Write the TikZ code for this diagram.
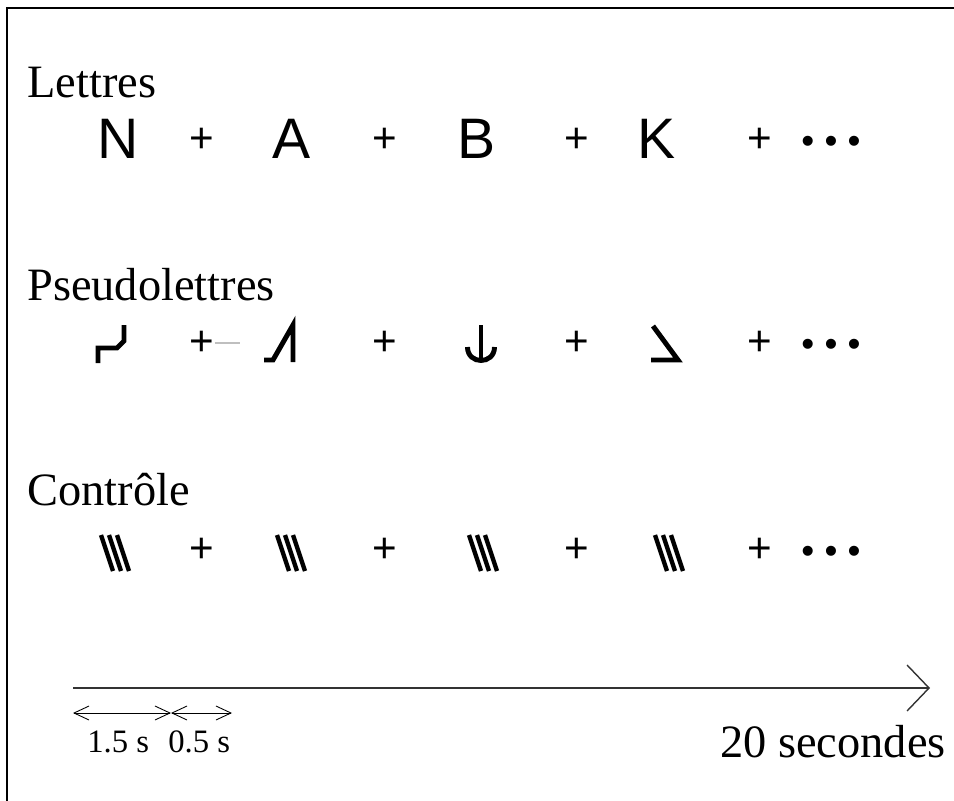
\documentclass[tikz,border=0pt]{standalone}
\usepackage{fontspec}
\setmainfont{Liberation Serif}
\newfontfamily\sansglyph{Liberation Sans}
\usetikzlibrary{positioning, arrows.meta}

\begin{document}
\begin{tikzpicture}[
    x=0.02cm, y=-0.02cm,
    lab_txt/.style={anchor=base west, inner sep=0pt, font=\fontsize{26.4}{30}\selectfont},
    dur_txt/.style={anchor=base west, inner sep=0pt, font=\fontsize{18.6}{22}\selectfont},
    letter_txt/.style={anchor=base, inner sep=0pt, font=\sansglyph\fontsize{32.5}{36}\selectfont},
    plus_txt/.style={inner sep=0pt, font=\sansglyph\fontsize{24}{28}\selectfont},
    dots_txt/.style={inner sep=0pt, font=\sansglyph\fontsize{21}{26}\selectfont},
    glyph_line/.style={line width=2.8pt, line join=miter},
    slash_line/.style={line width=2.5pt},
    time_axis/.style={-{Straight Barb[length=4.4mm, width=9.2mm, line width=0.8pt]}, line width=1.1pt, black!80},
    dur_arrow/.style={{Straight Barb[length=3mm, width=2.8mm]}-{Straight Barb[length=3mm, width=2.8mm]}, line width=0.5pt}
  ]
  \useasboundingbox (0,0) rectangle (954,801);
  \draw[line width=1.1pt] (954,8) -- (7,8) -- (7,801);

  % row labels
  \node[lab_txt] (lettres) at (27,97) {Lettres};
  \node[lab_txt] (pseudo) at (27,300) {Pseudolettres};
  \node[lab_txt] (controle) at (27,505) {Contrôle};

  % letters
  \node[letter_txt] (let_n) at (118,158) {N};
  \node[letter_txt] (let_a) at (292,158) {A};
  \node[letter_txt] (let_b) at (477,158) {B};
  \node[letter_txt] (let_k) at (657,158) {K};

  % fixation crosses
  \foreach \px [count=\i] in {202,385,577,760} {
    \node[plus_txt] (plA-\i) at (\px,140) {+};
    \node[plus_txt] (plB-\i) at (\px,343) {+};
    \node[plus_txt] (plC-\i) at (\px,550) {+};
  }
  \node[dots_txt] (dotsA) at (831,145) {• • •};
  \node[dots_txt] (dotsB) at (831,348) {• • •};
  \node[dots_txt] (dotsC) at (831,555) {• • •};

  % pseudoletters
  \draw[glyph_line] (98,363) -- (98,348) -- (117,348) -- (124,341) -- (124,325);
  \coordinate (stray_end) at (240,343);
  \draw[gray!50, line width=0.6pt] (plB-1.east) -- (stray_end);
  \draw[glyph_line] (264,360) -- (273,360) -- (293,325) -- (293,362);
  \draw[glyph_line] (481,325) -- (481,361);
  \draw[glyph_line] (467.5,347) .. controls (467.5,365) and (494.5,365) .. (494.5,347);
  \draw[glyph_line] (653,326) -- (678,360) -- (651,360);

  % control strings
  \foreach \cx in {116,292,484,670}
    \foreach \k in {0,1,2}
      \draw[slash_line] (\cx-15+8*\k,535) -- (\cx-3+8*\k,571);

  % time line
  \coordinate (t_start) at (73,688);
  \coordinate (t_end) at (930,688);
  \draw[time_axis] (t_start) -- (t_end);
  \coordinate (d_a) at (73,713);
  \coordinate (d_b) at (171,713);
  \coordinate (d_c) at (232,713);
  \draw[dur_arrow] (d_a) -- (d_b);
  \draw[dur_arrow] (d_b) -- (d_c);
  \node[dur_txt] (dur_on) at (87,752) {1.5 s};
  \node[dur_txt] (dur_off) at (168,752) {0.5 s};
  \node[lab_txt] (total) at (720,757) {20 secondes};
\end{tikzpicture}
\end{document}
